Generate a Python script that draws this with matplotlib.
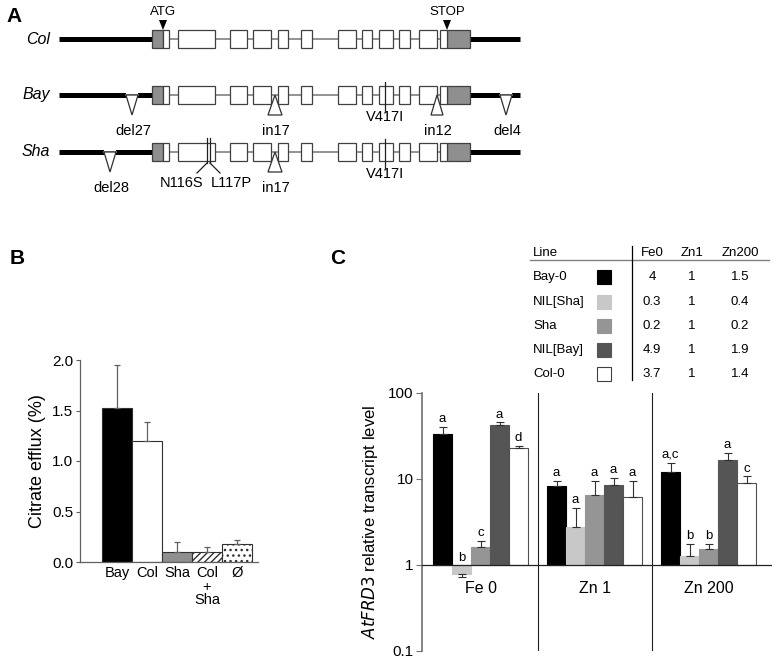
import numpy as np
import matplotlib
matplotlib.use('Agg')
import matplotlib.pyplot as plt
from matplotlib.patches import Rectangle, Polygon
from matplotlib.ticker import FixedLocator, FixedFormatter

plt.rcParams['font.family'] = ['Liberation Sans', 'DejaVu Sans']

W, H = 776, 661

# ---------- panel A: gene structure (positions along the drawing) ----------
rows = ['Col', 'Bay', 'Sha']
row_y = [39, 95, 152]
utr5_line = (59, 152)
utr3_line = (470, 520)
utr5_box = (152, 163)
utr3_box = (447, 470)
exons = [(163, 169), (178, 215), (230, 247), (253, 271), (278, 288), (301, 312),
         (338, 356), (362, 372), (379, 393), (399, 410), (419, 437), (440, 447)]
# indels: row, x, half width, kind ('del' points down, 'in' points up), label
indels = [('Bay', 132, 6, 'del', 'del27'), ('Bay', 275, 7, 'in', 'in17'),
          ('Bay', 437, 6, 'in', 'in12'), ('Bay', 506, 6, 'del', 'del4'),
          ('Sha', 110, 6, 'del', 'del28'), ('Sha', 275, 7, 'in', 'in17')]
snps = [('Bay', 385, 'V417I'), ('Sha', 385, 'V417I')]

# ---------- panel B ----------
b_labels = ['Bay', 'Col', 'Sha', 'Col\n+\nSha', 'Ø']
b_vals = [1.52, 1.20, 0.10, 0.10, 0.18]
b_errs = [0.43, 0.19, 0.10, 0.05, 0.04]

# ---------- panel C ----------
lines = ['Bay-0', 'NIL[Sha]', 'Sha', 'NIL[Bay]', 'Col-0']
line_colors = ['#000000', '#c8c8c8', '#959595', '#555555', '#ffffff']
conditions = ['Fe 0', 'Zn 1', 'Zn 200']
c_vals = [[33.6, 0.79, 1.64, 42.3, 23.1],
          [8.3, 2.75, 6.56, 8.6, 6.2],
          [12.2, 1.27, 1.54, 16.7, 9.0]]
c_errtop = [[40.0, 0.72, 1.90, 45.4, 24.2],
            [9.6, 4.6, 9.5, 10.3, 9.4],
            [15.5, 1.76, 1.76, 19.9, 10.7]]
c_letters = [['a', 'b', 'c', 'a', 'd'],
             ['a', 'a', 'a', 'a', 'a'],
             ['a,c', 'b', 'b', 'a', 'c']]
tbl_cols = ['Fe0', 'Zn1', 'Zn200']
tbl_vals = [['4', '0.3', '0.2', '4.9', '3.7'],
            ['1', '1', '1', '1', '1'],
            ['1.5', '0.4', '0.2', '1.9', '1.4']]

fig = plt.figure(figsize=(W / 100, H / 100), dpi=100)

# overlay in pixel units
ov = fig.add_axes([0, 0, 1, 1])
ov.set_xlim(0, W)
ov.set_ylim(H, 0)
ov.axis('off')

fsa = 10.5
ov.text(6, 16, 'A', fontsize=15, fontweight='bold', va='center')
for name, y in zip(rows, row_y):
    ov.text(50, y, name, fontsize=11.5, style='italic', va='center', ha='right')
    ov.plot([utr5_box[1], exons[-1][0]], [y, y], color='#8a8a8a', lw=1.3, zorder=1)
    ov.plot(utr5_line, [y, y], color='black', lw=3.6, solid_capstyle='butt', zorder=2)
    ov.plot(utr3_line, [y, y], color='black', lw=3.6, solid_capstyle='butt', zorder=2)
    for (x0, x1), fc in [(utr5_box, '#8f8f8f'), (utr3_box, '#8f8f8f')]:
        ov.add_patch(Rectangle((x0, y - 9), x1 - x0, 18, fc=fc, ec='#404040', lw=0.9, zorder=3))
    for x0, x1 in exons:
        ov.add_patch(Rectangle((x0, y - 9), x1 - x0, 18, fc='white', ec='#404040', lw=0.9, zorder=3))

for row, x, hw, kind, lab in indels:
    y = row_y[rows.index(row)]
    if kind == 'del':
        ov.plot([x - hw, x + hw], [y, y], color='white', lw=4, solid_capstyle='butt', zorder=2.5)
        ov.plot([x - hw, x + hw], [y, y], color='#8a8a8a', lw=1.3, zorder=2.6)
        pts = [(x - hw, y), (x + hw, y), (x, y + 20)]
    else:
        pts = [(x - hw, y + 20), (x + hw, y + 20), (x, y)]
    ov.add_patch(Polygon(pts, closed=True, fc='white', ec='#303030', lw=0.9, zorder=4))
    ov.text(x + 1, y + 36, lab, fontsize=fsa, ha='center', va='center')

for row, x, lab in snps:
    y = row_y[rows.index(row)]
    ov.plot([x, x], [y - 13, y + 17], color='#202020', lw=0.9, zorder=4)
    ov.text(x, y + 22, lab, fontsize=fsa, ha='center', va='center')

ysha = row_y[2]
for x, dx in [(207, -10), (210, 10)]:
    ov.plot([x, x], [ysha - 14, ysha + 11], color='#202020', lw=0.9, zorder=4)
    ov.plot([x, x + dx], [ysha + 11, ysha + 21], color='#202020', lw=0.9, zorder=4)
ov.text(203, ysha + 31, 'N116S', fontsize=fsa, ha='right', va='center')
ov.text(211, ysha + 31, 'L117P', fontsize=fsa, ha='left', va='center')

for x, lab in [(163, 'ATG'), (447, 'STOP')]:
    ov.add_patch(Polygon([(x - 4, 20), (x + 4, 20), (x, 30)], closed=True, fc='black', ec='none', zorder=5))
    ov.text(x, 12, lab, fontsize=9.5, ha='center', va='center')

ov.text(10, 259, 'B', fontsize=15, fontweight='bold', va='center')
ov.text(330, 259, 'C', fontsize=15, fontweight='bold', va='center')

# table
ov.text(533, 253, 'Line', fontsize=9.5, va='center')
for cx, col in zip([652, 692, 740], tbl_cols):
    ov.text(cx, 253, col, fontsize=9.5, ha='center', va='center')
ov.plot([530, 769], [260, 260], color='#808080', lw=1.0)
ov.plot([632, 632], [246, 380], color='black', lw=0.9)
tbl_y = [277, 302, 326, 350, 374]
for i, (ln, c, y) in enumerate(zip(lines, line_colors, tbl_y)):
    ov.text(533, y, ln, fontsize=9.5, va='center')
    ov.add_patch(Rectangle((597, y - 7), 14, 14, fc=c, ec='#404040' if c == '#ffffff' else c, lw=0.8))
    for cx, vals in zip([652, 692, 740], tbl_vals):
        ov.text(cx, y, vals[i], fontsize=9.5, ha='center', va='center')

# ---------- panel B axes ----------
axb = fig.add_axes([80 / W, 1 - 562 / H, 178 / W, 202 / H])
xb = np.arange(len(b_vals))
fcs = ['black', 'white', '#8f8f8f', 'white', 'white']
hatches = [None, None, None, '/////', '...']
for i in range(len(b_vals)):
    axb.bar(xb[i], b_vals[i], width=1.0, color=fcs[i], edgecolor='#303030', lw=0.8,
            hatch=hatches[i], zorder=2)
axb.errorbar(xb, b_vals, yerr=[np.zeros(len(b_vals)), b_errs], fmt='none',
             ecolor='#606060', elinewidth=0.9, capsize=2.5, capthick=0.9, zorder=3)
axb.set_xlim(-1.23, 4.7)
axb.set_ylim(0, 2.0)
axb.set_yticks([0, 0.5, 1.0, 1.5, 2.0])
axb.set_yticklabels(['0.0', '0.5', '1.0', '1.5', '2.0'], fontsize=11)
axb.set_xticks(xb)
axb.set_xticklabels(b_labels, fontsize=10.5, linespacing=0.95)
axb.tick_params(axis='x', length=0, pad=3)
axb.tick_params(axis='y', length=3, width=0.8, color='#606060', pad=2)
axb.spines[['top', 'right']].set_visible(False)
for s in ['left', 'bottom']:
    axb.spines[s].set_color('#606060')
    axb.spines[s].set_linewidth(0.9)
axb.set_ylabel('Citrate efflux (%)', fontsize=13, labelpad=4)

# ---------- panel C axes ----------
axc = fig.add_axes([422 / W, 1 - 651 / H, 350 / W, 258 / H])
axc.set_yscale('log')
axc.set_ylim(0.1, 100)
axc.set_xlim(-1.08, 17.34)
for g, cond in enumerate(conditions):
    xs = g * 6 + np.arange(5)
    vals = np.array(c_vals[g])
    tops = np.array(c_errtop[g])
    for j in range(5):
        axc.bar(xs[j], vals[j] - 1, bottom=1, width=1.0, color=line_colors[j],
                edgecolor='#505050' if j == 4 else line_colors[j], lw=0.8, zorder=2)
        lo = vals[j] - tops[j] if tops[j] < vals[j] else 0
        hi = tops[j] - vals[j] if tops[j] > vals[j] else 0
        axc.errorbar(xs[j], vals[j], yerr=[[lo], [hi]], fmt='none', ecolor='#303030',
                     elinewidth=0.8, capsize=3, capthick=0.8, zorder=3)
        ly = max(tops[j], 1.0) * 1.05 if vals[j] >= 1 else 1.02
        axc.text(xs[j], ly, c_letters[g][j], fontsize=9.5, ha='center', va='bottom')
    axc.text(xs.mean(), 0.53, cond, fontsize=11.5, ha='center', va='center')
for xv in [5, 11]:
    axc.axvline(xv, color='#202020', lw=0.8)
axc.axhline(1, color='#202020', lw=0.9, zorder=4)
axc.spines[['top', 'right', 'bottom']].set_visible(False)
axc.spines['left'].set_color('#707070')
axc.spines['left'].set_linewidth(1.2)
axc.yaxis.set_major_locator(FixedLocator([0.1, 1, 10, 100]))
axc.yaxis.set_major_formatter(FixedFormatter(['0.1', '1', '10', '100']))
axc.yaxis.set_minor_locator(FixedLocator([]))
axc.tick_params(axis='y', length=4, width=0.8, color='#707070', labelsize=11, pad=2)
axc.set_xticks([])
axc.set_ylabel(r'$\it{AtFRD3}$ relative transcript level', fontsize=12, labelpad=6)

fig.savefig('out.png', dpi=100)
